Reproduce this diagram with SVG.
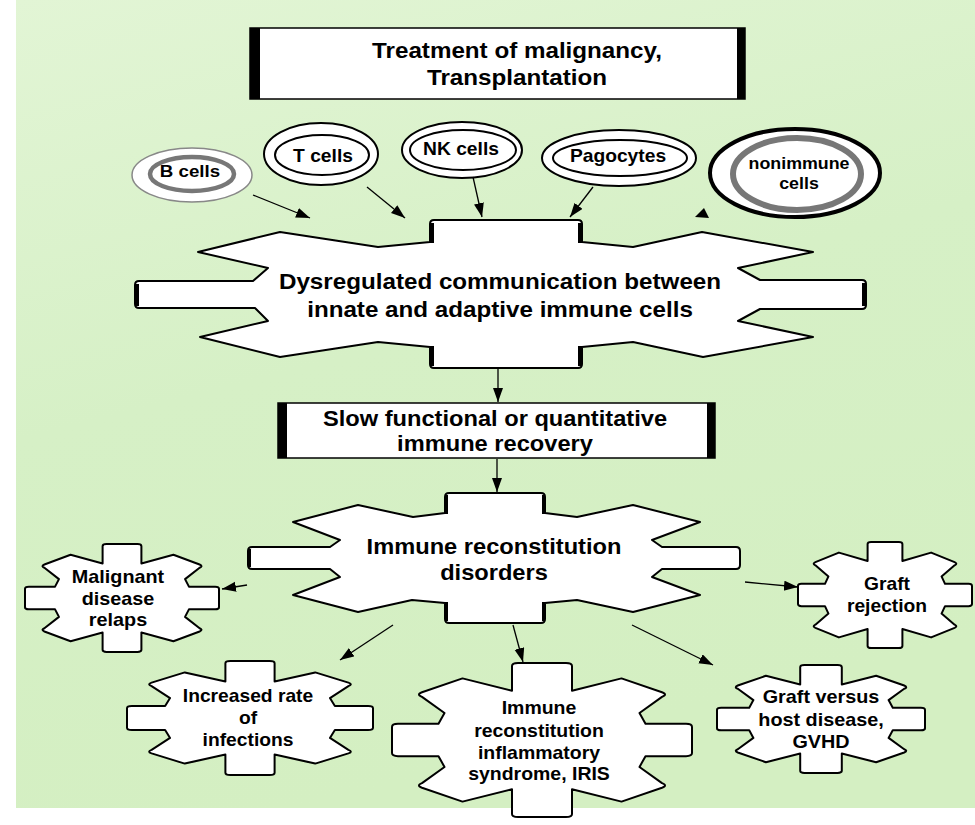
<svg xmlns="http://www.w3.org/2000/svg" width="975" height="825" viewBox="0 0 975 825">
<style>
.t{font-family:"Liberation Sans",Arial,sans-serif;font-weight:bold;text-anchor:middle;fill:#000}
.shape{fill:#fff;stroke:#000;stroke-width:2;stroke-linejoin:round}
.gearshape{fill:#fff;stroke:#000;stroke-width:2;stroke-linejoin:round;vector-effect:non-scaling-stroke}
.con{stroke:#000;stroke-width:1.3;fill:none;marker-end:url(#ah)}
.bar{stroke:#000;stroke-width:4}
</style>
<defs>
<linearGradient id="bg" x1="0" y1="0" x2="0.3" y2="1">
<stop offset="0" stop-color="#e2f5d5"/>
<stop offset="0.5" stop-color="#d6f0c6"/>
<stop offset="1" stop-color="#d4efc2"/>
</linearGradient>
<marker id="ah" markerWidth="15" markerHeight="11" refX="14" refY="5" orient="auto" markerUnits="userSpaceOnUse"><path d="M0,0 L14,5 L0,10 Z" fill="#000"/></marker>
<path id="gear" class="gearshape" d="M-20,-96 Q-20,-100 -16,-100 L16,-100 Q20,-100 20,-96 L20,-64 L53,-80 L80,-62 Q84,-59 80,-56 L65,-35 L69,-21 L96,-21 Q100,-21 100,-17 L100,17 Q100,21 96,21 L69,21 L65,35 L80,56 Q84,59 80,62 L53,80 L20,64 L20,96 Q20,100 16,100 L-16,100 Q-20,100 -20,96 L-20,64 L-53,80 L-80,62 Q-84,59 -80,56 L-65,35 L-69,21 L-96,21 Q-100,21 -100,17 L-100,-17 Q-100,-21 -96,-21 L-69,-21 L-65,-35 L-80,-56 Q-84,-59 -80,-62 L-53,-80 L-20,-64 Z"/>
</defs>
<rect x="0" y="0" width="975" height="825" fill="#fff"/>
<rect x="16" y="0" width="959" height="808" fill="url(#bg)"/>

<g id="top">
<rect x="250" y="28" width="495" height="71" fill="#fff" stroke="#000" stroke-width="1.5"/>
<rect x="250" y="28" width="10" height="71" fill="#000"/>
<rect x="737" y="28" width="8" height="71" fill="#000"/>
<text class="t" font-size="22" transform="translate(517 0) scale(1.1 1)" y="58">Treatment of malignancy,<tspan x="0" y="85">Transplantation</tspan></text>
</g>

<g id="bcells">
<ellipse cx="192" cy="175" rx="60" ry="27" fill="#fff" stroke="#888" stroke-width="1.5"/>
<ellipse cx="192" cy="174" rx="42" ry="17" fill="#fff" stroke="#777" stroke-width="4.5"/>
<text class="t" font-size="17" transform="translate(190 0) scale(1.1 1)" y="177">B cells</text>
</g>
<g id="tcells">
<ellipse cx="321" cy="154" rx="57" ry="31" fill="#fff" stroke="#000" stroke-width="2"/>
<ellipse cx="322" cy="155" rx="47" ry="20" fill="#fff" stroke="#000" stroke-width="2"/>
<text class="t" font-size="17.5" transform="translate(323 0) scale(1.1 1)" y="162">T cells</text>
</g>
<g id="nkcells">
<ellipse cx="462" cy="150" rx="60" ry="28" fill="#fff" stroke="#000" stroke-width="2"/>
<ellipse cx="463" cy="150" rx="53" ry="20" fill="#fff" stroke="#000" stroke-width="2"/>
<text class="t" font-size="17.5" transform="translate(461 0) scale(1.1 1)" y="155">NK cells</text>
</g>
<g id="pagocytes">
<ellipse cx="619" cy="158" rx="77" ry="28" fill="#fff" stroke="#000" stroke-width="2"/>
<ellipse cx="620" cy="158" rx="67" ry="18" fill="#fff" stroke="#000" stroke-width="2"/>
<text class="t" font-size="17.5" transform="translate(618 0) scale(1.1 1)" y="162">Pagocytes</text>
</g>
<g id="nonimmune">
<ellipse cx="795" cy="173" rx="85" ry="44" fill="#fff" stroke="#000" stroke-width="4"/>
<ellipse cx="797" cy="174" rx="64" ry="36" fill="#fff" stroke="#777" stroke-width="6"/>
<text class="t" font-size="16.5" transform="translate(799 0) scale(1.08 1)" y="169">nonimmune<tspan x="0" y="189">cells</tspan></text>
</g>

<g id="dysregulated">
<path class="shape" d="M430,224 Q430,220 434,220 L578,220 Q582,220 582,224 L582,242 L633,247 L702,232 L813,252 L738,268 L760,280 L862,280 Q866,280 866,284 L866,305 Q866,309 862,309 L760,309 L738,321 L813,337 L703,357 L633,342 L582,347 L582,364 Q582,368 578,368 L434,368 Q430,368 430,364 L430,347 L378,342 L280,357 L200,337 L268,321 L255,308 L139,308 Q135,308 135,304 L135,285 Q135,281 139,281 L253,281 L268,268 L198,252 L280,232 L378,247 L430,242 Z"/>
<line class="bar" x1="432" y1="223" x2="432" y2="243"/>
<line class="bar" x1="580" y1="223" x2="580" y2="243"/>
<line class="bar" x1="432" y1="346" x2="432" y2="366"/>
<line class="bar" x1="580" y1="346" x2="580" y2="366"/>
<line class="bar" x1="137" y1="284" x2="137" y2="306"/>
<line class="bar" x1="864" y1="283" x2="864" y2="306"/>
<text class="t" font-size="22" transform="translate(500 0) scale(1.1 1)" y="289">Dysregulated communication between<tspan x="0" y="317">innate and adaptive immune cells</tspan></text>
</g>

<g id="slow">
<rect x="278" y="403" width="437" height="55" fill="#fff" stroke="#000" stroke-width="1.5"/>
<rect x="278" y="403" width="9" height="55" fill="#000"/>
<rect x="707" y="403" width="8" height="55" fill="#000"/>
<text class="t" font-size="21.5" transform="translate(495 0) scale(1.1 1)" y="426">Slow functional or quantitative<tspan x="0" y="451">immune recovery</tspan></text>
</g>

<g id="immune">
<path class="shape" d="M445,497 Q445,493 449,493 L541,493 Q545,493 545,497 L545,513 L577,517 L633,505 L700,522 L652,540 L662,547 L736,547 Q740,547 740,551 L740,565 Q740,569 736,569 L662,569 L652,577 L700,595 L633,612 L577,600 L545,603 L545,619 Q545,623 541,623 L449,623 Q445,623 445,619 L445,603 L412,600 L358,612 L293,595 L340,577 L330,569 L252,569 Q248,569 248,565 L248,551 Q248,547 252,547 L330,547 L340,540 L293,522 L358,505 L413,517 L445,513 Z"/>
<line x1="446.5" y1="495" x2="446.5" y2="514" stroke="#000" stroke-width="3"/>
<line x1="543.5" y1="495" x2="543.5" y2="514" stroke="#000" stroke-width="3"/>
<line x1="446.5" y1="602" x2="446.5" y2="621" stroke="#000" stroke-width="3"/>
<line x1="543.5" y1="602" x2="543.5" y2="621" stroke="#000" stroke-width="3"/>
<line x1="249.5" y1="549" x2="249.5" y2="567" stroke="#000" stroke-width="3"/>
<text class="t" font-size="21.5" transform="translate(494 0) scale(1.1 1)" y="554">Immune reconstitution<tspan x="0" y="580">disorders</tspan></text>
</g>

<g id="malignant">
<use href="#gear" transform="translate(122 598) scale(0.97 0.54)"/>
<text class="t" font-size="18" transform="translate(118 0) scale(1.1 1)" y="583">Malignant<tspan x="0" y="605">disease</tspan><tspan x="0" y="626">relaps</tspan></text>
</g>
<g id="graftrejection">
<use href="#gear" transform="translate(885 595) scale(0.87 0.53)"/>
<text class="t" font-size="17.5" transform="translate(887 0) scale(1.1 1)" y="590">Graft<tspan x="0" y="612">rejection</tspan></text>
</g>
<g id="infections">
<use href="#gear" transform="translate(250 718) scale(1.23 0.57)"/>
<text class="t" font-size="17.5" transform="translate(248 0) scale(1.1 1)" y="702">Increased rate<tspan x="0" y="724">of</tspan><tspan x="0" y="746">infections</tspan></text>
</g>
<g id="iris">
<use href="#gear" transform="translate(542 740) scale(1.5 0.77)"/>
<text class="t" font-size="17.7" transform="translate(539 0) scale(1.1 1)" y="714">Immune<tspan x="0" y="737">reconstitution</tspan><tspan x="0" y="759">inflammatory</tspan><tspan x="0" y="780">syndrome, IRIS</tspan></text>
</g>
<g id="gvhd">
<use href="#gear" transform="translate(821 719) scale(1.04 0.54)"/>
<text class="t" font-size="18" transform="translate(821 0) scale(1.1 1)" y="703">Graft versus<tspan x="0" y="726">host disease,</tspan><tspan x="0" y="748">GVHD</tspan></text>
</g>

<g id="connectors">
<line class="con" x1="253" y1="195" x2="310" y2="218"/>
<line class="con" x1="367" y1="187" x2="405" y2="218"/>
<line class="con" x1="473" y1="177" x2="482" y2="217"/>
<line class="con" x1="593" y1="187" x2="570" y2="217"/>
<polygon points="695,217 704,208 709,218" fill="#000"/>
<line class="con" x1="498" y1="369" x2="498" y2="402"/>
<line class="con" x1="497" y1="459" x2="497" y2="492"/>
<line class="con" x1="247" y1="585" x2="222" y2="589"/>
<line class="con" x1="745" y1="582" x2="798" y2="587"/>
<line class="con" x1="393" y1="625" x2="340" y2="660"/>
<line class="con" x1="513" y1="625" x2="523" y2="662"/>
<line class="con" x1="632" y1="625" x2="713" y2="665"/>
</g>
</svg>
